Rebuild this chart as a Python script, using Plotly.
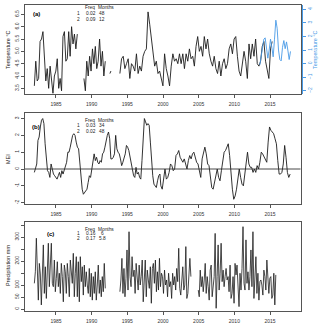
import numpy as np
import plotly.graph_objects as go

# ---------------- DATA ----------------
years_ticks = [1985, 1990, 1995, 2000, 2005, 2010, 2015]

# (a) lake temperature, black, segments (start year, end year, values)
temp_seg1_span = (1981.97, 1987.99)
temp_seg1 = [3.6, 4.6, 3.8, 3.9, 5.4, 5.5, 5.8, 4.5, 3.8, 4.3, 3.5, 4.4, 3.9, 3.3,
             4.0, 4.2, 4.7, 3.5, 3.9, 3.4, 5.6, 5.8, 4.6, 4.7, 5.8, 4.8, 6.0, 5.3,
             5.7, 5.1, 5.7]
temp_seg2_span = (1988.92, 1991.91)
temp_seg2 = [3.9, 3.4, 4.6, 4.0, 4.8, 4.2, 5.1, 4.5, 5.2, 4.3, 4.6, 5.5, 4.4, 5.0,
             4.0, 4.6]
temp_seg3_span = (1992.56, 1992.70)
temp_seg3 = [4.1, 4.2]
temp_seg4_span = (1993.96, 2015.3)
temp_seg4 = [4.1, 4.7, 4.8, 4.3, 4.5, 4.7, 3.9, 4.5, 4.4, 4.2, 4.9, 4.1, 4.4, 4.2,
             4.8, 5.0, 5.1, 6.6, 6.1, 5.5, 4.9, 4.4, 4.6, 4.1,
             4.2, 3.9, 3.6, 4.9, 4.3, 4.0, 3.6, 4.4, 4.9, 4.6, 4.7, 4.5, 4.9, 4.5,
             4.9, 4.3, 4.9, 4.6, 5.1, 4.7, 4.8, 4.4, 5.2, 5.6, 5.0, 5.2, 4.8, 5.6,
             5.1, 5.5, 4.9, 4.6, 4.4, 4.8, 4.3, 4.1, 4.6, 4.0, 4.5, 4.7, 4.3, 4.5,
             5.1, 5.3, 4.9, 5.5, 5.6, 4.8, 4.2, 4.0, 4.6, 5.0, 4.6, 3.9, 5.3, 4.7,
             5.3, 4.8, 5.5, 4.5, 4.4, 4.6, 5.2, 5.4, 4.6, 4.3, 3.9, 5.1, 5.4]

# (a) blue series on right axis
blue_span = (2013.57, 2017.87)
blue_vals = [-0.1, 0.6, 1.2, 1.8, 1.9, 1.0, 0.4, 1.0, 1.8, 1.2, 0.5, 1.8, 3.2, 2.6,
             1.0, 0.3, 0.2, 1.2, 1.7, 1.1, 1.6, 1.0, 0.3, 0.9]

# (b) MEI
mei_part1_span = (1981.97, 1999.57)
mei_part1 = [-0.2, 0.1, 0.3, 1.7, 1.9, 2.5, 2.9, 3.0, 2.7, 1.5, 0.5, -0.1, -0.2, -0.5,
             0.3, 0.0, -0.3, -0.4, -0.5, -0.6, -0.4, -0.2, -0.5, -0.1, -0.3, -0.1,
             0.2, 0.4, 1.0, 1.0, 1.3, 1.7, 2.0, 2.1, 2.0, 1.6, 1.3, 1.2, 0.3, -0.4,
             -1.2, -1.5, -1.4, -1.3, -1.2, -0.8, -0.4, -0.5, -0.1, 0.3, 0.9, 0.5,
             0.7, 0.4, 0.3, 0.5, 0.4, 0.9, 1.0, 1.3, 1.7, 2.0, 2.2, 1.8, 0.6, 0.6,
             0.7, 0.9, 2.0, 1.2, 1.0, 0.9, 0.6, 0.2, 0.4, 0.7, 0.9, 1.4, 1.3, 1.1,
             0.7, 0.3, -0.1, -0.4, -0.5, 0.1, -0.3, -0.2, -0.5, -0.6, 0.5, 2.0, 3.0,
             2.8, 2.6, 2.7, 2.6, 1.6, 0.3, -0.4, -0.9, -1.0, -1.1, -0.7, -0.4, -0.3]
mei_part2_span = (1999.70, 2017.82)
mei_part2 = [-1.0, -1.2, -0.5, 0.0, -0.6, -0.5, -0.2, 0.3, 0.2, -0.1, 0.0, 0.8, 0.9,
             1.1, 0.7, 0.5, 0.4, 0.6, 0.3, 0.0, 0.5, 0.8, 0.6, 0.9, 1.0, 0.7, 0.4,
             0.3, -0.2, -0.5, 0.6, 1.0, 1.3, 0.9, 0.3, 0.2, -0.5, -1.1, -1.2, -0.8,
             -0.3, 0.0, -0.5, -0.7, -0.1, 0.4, 1.0, 1.1, 1.3, 1.5, 0.8, -0.3, -1.2,
             -1.8, -1.6, -1.2, -0.5, 0.0, -0.5, -0.9, -1.0, -0.3, 0.6, 1.0, 0.3, 0.1,
             0.1, -0.2, 0.0, -0.2, 0.2, 0.0, 0.4, 1.0, 0.9, 0.7, 0.6, 0.4, 1.6, 2.5,
             2.3, 2.2, 2.1, 1.8, 1.5, 0.5, -0.3, -0.3, -0.2, 0.3, 1.4, 0.7, -0.2,
             -0.5, -0.3]

# (c) precipitation
prec_seg1_span = (1981.97, 1991.91)
prec_seg1 = [107, 155, 295, 135, 37, 190, 146, 17, 135, 267, 65, 176, 44, 211, 274,
             93, 204, 274, 107, 93, 204, 72, 128, 197, 93, 149, 65, 190, 135, 30,
             183, 155, 65, 190, 135, 51, 204, 155, 107, 232, 51, 149, 218, 51, 197,
             30, 218, 114, 176, 58, 183, 93, 155, 100, 65, 169, 51, 149, 37, 135,
             65, 155, 37, 100, 183, 65, 121, 51, 135, 72, 190, 86]
prec_seg2_span = (1993.96, 2003.91)
prec_seg2 = [72, 121, 211, 65, 169, 51, 128, 246, 79, 322, 135, 93, 218, 135, 162,
             65, 190, 135, 79, 183, 100, 135, 204, 30, 142, 204, 51, 162, 121, 86,
             176, 24, 169, 190, 107, 204, 72, 155, 79, 211,
             93, 149, 135, 65, 162, 100, 121, 51, 149, 93, 114, 44, 149, 100, 135,
             79, 169, 114, 253, 86, 58, 135, 176, 79, 100, 260, 44, 65, 135, 211,
             135]
prec_seg3_span = (2004.94, 2015.81)
prec_seg3 = [79, 51, 162, 93, 135, 72, 121, 190, 65, 135, 93, 37, 162, 183, 51, 93,
             135, 315, 3, 135, 267, 79, 149, 274, 114, 162, 93, 135, 169, 121, 135,
             72, 183, 44, 65, 135, 24, 190, 142, 183, 93, 10, 149, 79, 169, 343, 107,
             79, 288, 107, 155, 79, 135, 246, 93, 322, 44, 162, 218, 65, 149, 37,
             114, 121, 100, 58, 162, 135, 79, 204, 121, 65, 128, 135, 44, 58, 149,
             17, 142]

tables = {
    "a": [("1", "0.02", "48"), ("2", "0.09", "12")],
    "b": [("1", "0.03", "34"), ("2", "0.02", "48")],
    "c": [("1", "0.16", "6"), ("2", "0.17", "5.8")],
}


# ---------------- HELPERS ----------------
def join(segments):
    xs, ys = [], []
    for span, vals in segments:
        x = np.linspace(span[0], span[1], len(vals))
        if xs:
            xs.append(None)
            ys.append(None)
        xs.extend(x.tolist())
        ys.extend(vals)
    return xs, ys


W, H = 320, 325
def px(x):
    return x / W
def py(y):
    return 1 - y / H

FONT = "Liberation Sans, Arial, sans-serif"
BLUE = "#4a9be6"
LINE = "#1c1c1c"
AX = "#555555"

fig = go.Figure()

tx, ty = join([(temp_seg1_span, temp_seg1), (temp_seg2_span, temp_seg2),
               (temp_seg3_span, temp_seg3), (temp_seg4_span, temp_seg4)])
fig.add_trace(go.Scatter(x=tx, y=ty, mode="lines", line=dict(color=LINE, width=0.9),
                         xaxis="x", yaxis="y", connectgaps=False))
bx, by = join([(blue_span, blue_vals)])
fig.add_trace(go.Scatter(x=bx, y=by, mode="lines", line=dict(color=BLUE, width=0.9),
                         xaxis="x", yaxis="y4"))
mx, my = join([(mei_part1_span, mei_part1)])
mx2, my2 = join([(mei_part2_span, mei_part2)])
fig.add_trace(go.Scatter(x=mx + mx2, y=my + my2, mode="lines",
                         line=dict(color=LINE, width=0.9), xaxis="x2", yaxis="y2"))
cx, cy = join([(prec_seg1_span, prec_seg1), (prec_seg2_span, prec_seg2),
               (prec_seg3_span, prec_seg3)])
fig.add_trace(go.Scatter(x=cx, y=cy, mode="lines", line=dict(color=LINE, width=0.8),
                         xaxis="x3", yaxis="y3", connectgaps=False))

xdom = [px(25), px(300.5)]
xr = [1980.66, 2019.27]
common_x = dict(domain=xdom, range=xr, tickvals=years_ticks, ticks="outside", ticklen=3,
                tickwidth=0.8, tickcolor=AX, showline=True, linecolor=AX, linewidth=0.9,
                mirror=True, showgrid=False, zeroline=False, automargin=False,
                tickfont=dict(size=5, family=FONT, color="#333"), ticklabelstandoff=2)
common_y = dict(ticks="outside", ticklen=3, tickwidth=0.8, tickcolor=AX, showline=True,
                linecolor=AX, linewidth=0.9, mirror=True, showgrid=False, zeroline=False,
                automargin=False, tickangle=-90,
                tickfont=dict(size=5, family=FONT, color="#333"))

tv_a = [3.5, 4.0, 4.5, 5.0, 5.5, 6.0, 6.5]
tv_b = [-2, -1, 0, 1, 2, 3]
tv_c = [0, 50, 100, 150, 200, 250, 300, 350]
tt_c = ["0", "50", "100", "", "200", "", "300", ""]

fig.update_layout(
    width=W, height=H, margin=dict(l=0, r=0, t=0, b=0, autoexpand=False),
    paper_bgcolor="white", plot_bgcolor="white", showlegend=False,
    xaxis=dict(anchor="y", **common_x),
    xaxis2=dict(anchor="y2", **common_x),
    xaxis3=dict(anchor="y3", **common_x),
    yaxis=dict(anchor="x", domain=[py(94), py(5)], range=[3.27, 6.88], tickvals=tv_a,
               ticktext=["%.1f" % v for v in tv_a], **common_y),
    yaxis2=dict(anchor="x2", domain=[py(204), py(113)], range=[-2.08, 3.33],
                tickvals=tv_b, ticktext=[str(v) for v in tv_b], **common_y),
    yaxis3=dict(anchor="x3", domain=[py(311), py(222)], range=[-8.3, 362.5],
                tickvals=tv_c, ticktext=tt_c, **common_y),
    yaxis4=dict(overlaying="y", side="right", anchor="free", position=px(302),
                range=[-2.24, 4.32], tickvals=[-2, -1, 0, 1, 2, 3, 4], ticks="outside",
                ticklen=3, tickwidth=0.8, tickcolor=BLUE, showline=True, linecolor=BLUE,
                linewidth=0.9, showgrid=False, zeroline=False, tickangle=-90,
                automargin=False, tickfont=dict(size=5, family=FONT, color=BLUE)),
    shapes=[dict(type="line", xref="x2 domain", yref="y2", x0=0, x1=1, y0=0, y1=0,
                 line=dict(color="#333", width=0.9))],
)

ann = []
def text(x, y, s, size=5, color="#222", angle=0, bold=False):
    ann.append(dict(x=px(x), y=py(y), xref="paper", yref="paper", text=("<b>%s</b>" % s) if bold else s,
                    showarrow=False, textangle=angle, xanchor="center", yanchor="middle",
                    font=dict(size=size, family=FONT, color=color)))

# axis titles
text(8, 50, "Temperature °C", size=5.5, angle=-90)
text(8, 159, "MEI", size=5.5, angle=-90)
text(8, 266, "Precipitation mm", size=5.5, angle=-90)
text(315, 50, "Temperature °C", size=5.5, angle=-90, color=BLUE)

# panel labels
text(36, 14, "(a)", size=6, bold=True, color="#000")
text(36, 127, "(b)", size=6, bold=True, color="#000")
text(50, 234, "(c)", size=6, bold=True, color="#000")

# tables
for key, y0, dy in [("a", 8, 5.8), ("b", 121, 5.0), ("c", 229, 4.8)]:
    text(90, y0, "Freq", size=4.8)
    text(106, y0, "Months", size=4.8)
    for i, (n, f, m) in enumerate(tables[key]):
        yy = y0 + dy * (i + 1)
        text(78, yy, n, size=4.8)
        text(90.5, yy, f, size=4.8)
        text(102, yy, m, size=4.8)

fig.update_layout(annotations=ann)
fig.write_html("out.html", include_plotlyjs=True, config={"displayModeBar": False},
               post_script="document.body.style.margin='0';document.body.style.overflow='hidden';")
